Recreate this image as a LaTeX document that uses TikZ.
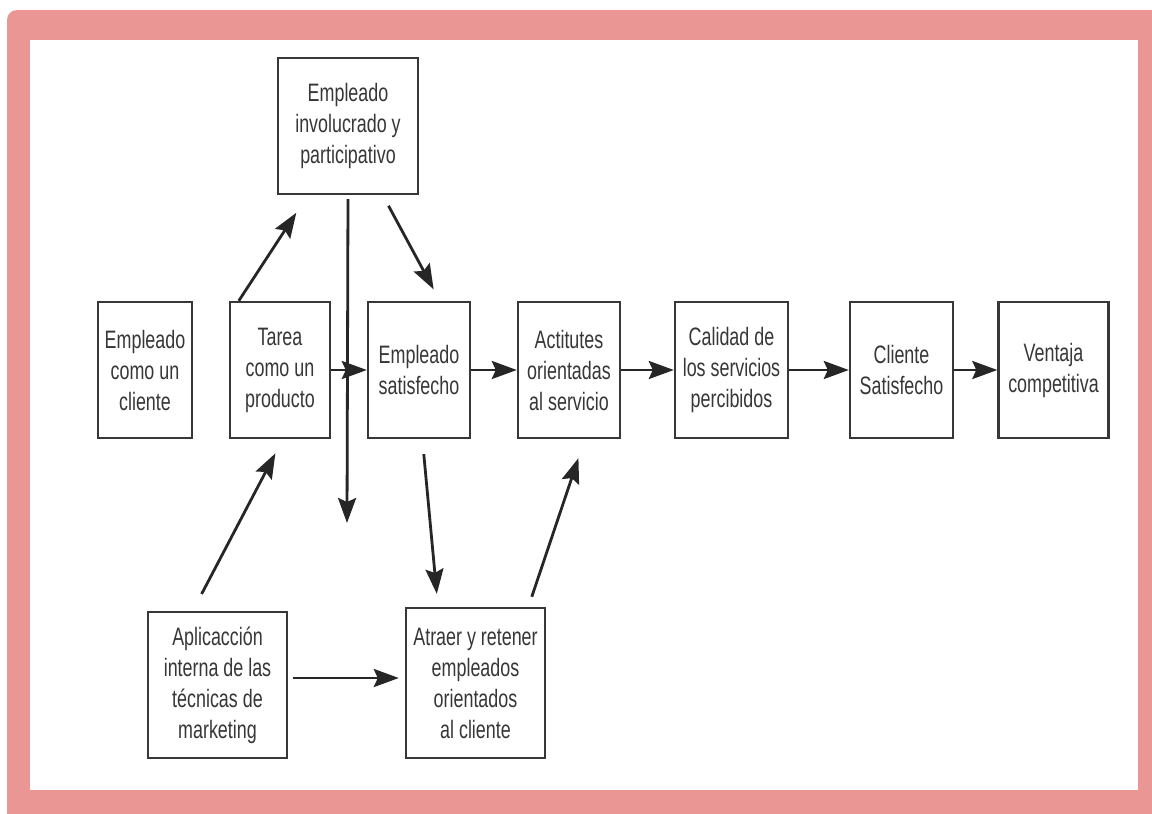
\documentclass[tikz,border=0pt]{standalone}
\usepackage{fontspec}
\setmainfont{Liberation Sans}[FakeStretch=0.71]
\usetikzlibrary{arrows.meta}
\definecolor{framepink}{RGB}{233,150,149}
\definecolor{boxgray}{RGB}{55,55,55}

\begin{document}
\begin{tikzpicture}[node distance=75pt,>={Stealth[length=12.5pt,width=9pt,inset=2pt]},
        caja/.style={draw=boxgray, line width=1.2pt, align=center, text=boxgray, inner sep=2pt,
            minimum height=68pt, font=\fontsize{12.6}{15.5}\selectfont},
        flecha/.style={->, line width=1.4pt, black!85}]
        \useasboundingbox (0,0) rectangle (576pt,-407pt);
        \fill[framepink] (3.5pt,-407pt) [rounded corners=5pt] -- (3.5pt,-5pt) [sharp corners] -- (576pt,-5pt) -- (576pt,-407pt) -- cycle;
        \fill[white] (15pt,-20pt) rectangle (569pt,-395pt);

        \node (cliente) [caja, minimum width=47pt] at (72.5pt,-185pt) {Empleado\\como un\\cliente};
        \node (tarea) [caja, minimum width=50pt, right of=cliente, xshift=-7.5pt] {Tarea\\como un\\producto};
        \node (satisf) [caja, minimum width=51pt, right of=tarea, xshift=-5.5pt] {Empleado\\satisfecho};
        \node (actitud) [caja, minimum width=51pt, right of=satisf] {Actitutes\\orientadas\\al servicio};
        \node (calidad) [caja, minimum width=56.5pt, right of=actitud, xshift=6.25pt] {Calidad de\\los servicios\\percibidos};
        \node (clisat) [caja, minimum width=51.5pt, right of=calidad, xshift=10pt] {Cliente\\Satisfecho};
        \node (ventaja) [caja, minimum width=55pt, right of=clisat, xshift=1pt] {Ventaja\\competitiva};
        \node (involucr) [caja, minimum width=70pt, above of=tarea, xshift=34pt, yshift=47pt] {Empleado\\involucrado y\\participativo};
        \node (aplic) [caja, minimum width=69.5pt, minimum height=73pt, below of=tarea, xshift=-31.25pt, yshift=-82.5pt] {Aplicacción\\interna de las\\técnicas de\\marketing};
        \node (atraer) [caja, minimum width=69.5pt, minimum height=75pt, below of=satisf, xshift=28.25pt, yshift=-81.5pt] {Atraer y retener\\empleados\\orientados\\al cliente};
        \coordinate (vfin) at (173.5pt,-261.5pt);

        \draw[flecha, shorten >=10.5pt] ([xshift=5pt]tarea.north west) -- ([xshift=15.5pt]involucr.south west);
        \draw[flecha, shorten <=2pt] (involucr.south) -- (vfin);
        \draw[flecha, shorten <=6pt, shorten >=6.5pt] ([xshift=53pt]involucr.south west) -- ([xshift=36.5pt]satisf.north west);
        \draw[flecha] (tarea) -- (satisf);
        \draw[flecha] (satisf) -- (actitud);
        \draw[flecha] (actitud) -- (calidad);
        \draw[flecha] (calidad) -- (clisat);
        \draw[flecha] (clisat) -- (ventaja);
        \draw[flecha, shorten <=9.5pt, shorten >=8pt] ([xshift=23pt]aplic.north west) -- ([xshift=27pt]tarea.south west);
        \draw[flecha, shorten <=7.5pt, shorten >=6.5pt] ([xshift=27.8pt]satisf.south west) -- ([xshift=16.6pt]atraer.north west);
        \draw[flecha, shorten <=5.3pt, shorten >=10pt] ([xshift=61.8pt]atraer.north west) -- ([xshift=34pt]actitud.south west);
        \draw[flecha, shorten <=2.5pt, shorten >=3pt] ([yshift=3.5pt]aplic.east) -- ([yshift=2.5pt]atraer.west);
    \end{tikzpicture}
\end{document}
